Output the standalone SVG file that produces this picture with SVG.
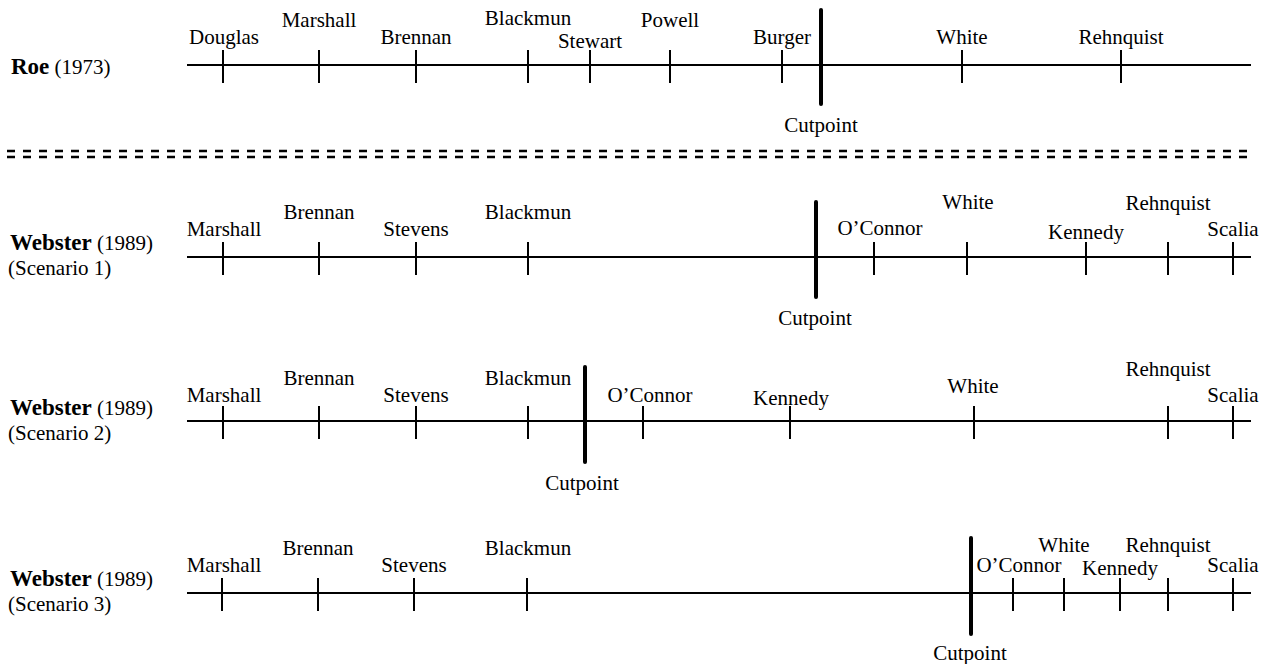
<svg xmlns="http://www.w3.org/2000/svg" width="1261" height="664" viewBox="0 0 1261 664">
<style>
text{font-family:'Liberation Serif','Times New Roman','DejaVu Serif',serif;font-size:21px;fill:#000}
.j{text-anchor:middle}
.b{font-weight:bold;font-size:23px}
.ax{stroke:#000;stroke-width:2;fill:none}
.tk{stroke:#000;stroke-width:2}
.cp{stroke:#000;stroke-width:4;stroke-linecap:round}
.dash{stroke:#000;stroke-width:2.5;stroke-dasharray:8 8;fill:none}
</style>
<rect width="1261" height="664" fill="#fff"/>

<g id="roe">
<text x="11" y="74"><tspan class="b">Roe</tspan> (1973)</text>
<line class="ax" x1="187" y1="65" x2="1251" y2="65"/>
<g class="tk">
<line x1="223" y1="50" x2="223" y2="83"/>
<line x1="319" y1="50" x2="319" y2="83"/>
<line x1="416" y1="50" x2="416" y2="83"/>
<line x1="528" y1="50" x2="528" y2="83"/>
<line x1="590" y1="50" x2="590" y2="83"/>
<line x1="670" y1="50" x2="670" y2="83"/>
<line x1="782" y1="50" x2="782" y2="83"/>
<line x1="962" y1="50" x2="962" y2="83"/>
<line x1="1121" y1="50" x2="1121" y2="83"/>
</g>
<line class="cp" x1="821" y1="10" x2="821" y2="104"/>
<text class="j" x="224" y="44">Douglas</text>
<text class="j" x="319" y="27">Marshall</text>
<text class="j" x="416" y="44">Brennan</text>
<text class="j" x="528" y="25">Blackmun</text>
<text class="j" x="590" y="48">Stewart</text>
<text class="j" x="670" y="27">Powell</text>
<text class="j" x="782" y="44">Burger</text>
<text class="j" x="962" y="44">White</text>
<text class="j" x="1121" y="44">Rehnquist</text>
<text class="j" x="821" y="132">Cutpoint</text>
</g>

<g id="separator">
<line class="dash" x1="7" y1="151" x2="1247" y2="151"/>
<line class="dash" x1="7" y1="157" x2="1247" y2="157"/>
</g>

<g id="webster1">
<text x="10" y="250"><tspan class="b">Webster</tspan> (1989)</text>
<text x="8" y="275">(Scenario 1)</text>
<line class="ax" x1="187" y1="257" x2="1251" y2="257"/>
<g class="tk">
<line x1="223" y1="242" x2="223" y2="275"/>
<line x1="319" y1="242" x2="319" y2="275"/>
<line x1="416" y1="242" x2="416" y2="275"/>
<line x1="528" y1="242" x2="528" y2="275"/>
<line x1="874" y1="242" x2="874" y2="275"/>
<line x1="967" y1="242" x2="967" y2="275"/>
<line x1="1086" y1="242" x2="1086" y2="275"/>
<line x1="1168" y1="242" x2="1168" y2="275"/>
<line x1="1233" y1="242" x2="1233" y2="275"/>
</g>
<line class="cp" x1="816" y1="202" x2="816" y2="297"/>
<text class="j" x="224" y="236">Marshall</text>
<text class="j" x="319" y="219">Brennan</text>
<text class="j" x="416" y="236">Stevens</text>
<text class="j" x="528" y="219">Blackmun</text>
<text class="j" x="880" y="235">O’Connor</text>
<text class="j" x="968" y="209">White</text>
<text class="j" x="1086" y="239">Kennedy</text>
<text class="j" x="1168" y="210">Rehnquist</text>
<text class="j" x="1233" y="236">Scalia</text>
<text class="j" x="815" y="325">Cutpoint</text>
</g>

<g id="webster2">
<text x="10" y="415"><tspan class="b">Webster</tspan> (1989)</text>
<text x="8" y="440">(Scenario 2)</text>
<line class="ax" x1="187" y1="421" x2="1251" y2="421"/>
<g class="tk">
<line x1="223" y1="406" x2="223" y2="439"/>
<line x1="319" y1="406" x2="319" y2="439"/>
<line x1="416" y1="406" x2="416" y2="439"/>
<line x1="528" y1="406" x2="528" y2="439"/>
<line x1="643" y1="406" x2="643" y2="439"/>
<line x1="790" y1="406" x2="790" y2="439"/>
<line x1="974" y1="406" x2="974" y2="439"/>
<line x1="1168" y1="406" x2="1168" y2="439"/>
<line x1="1233" y1="406" x2="1233" y2="439"/>
</g>
<line class="cp" x1="585" y1="367" x2="585" y2="462"/>
<text class="j" x="224" y="402">Marshall</text>
<text class="j" x="319" y="385">Brennan</text>
<text class="j" x="416" y="402">Stevens</text>
<text class="j" x="528" y="385">Blackmun</text>
<text class="j" x="650" y="402">O’Connor</text>
<text class="j" x="791" y="405">Kennedy</text>
<text class="j" x="973" y="393">White</text>
<text class="j" x="1168" y="376">Rehnquist</text>
<text class="j" x="1233" y="402">Scalia</text>
<text class="j" x="582" y="490">Cutpoint</text>
</g>

<g id="webster3">
<text x="10" y="586"><tspan class="b">Webster</tspan> (1989)</text>
<text x="8" y="611">(Scenario 3)</text>
<line class="ax" x1="187" y1="593" x2="1251" y2="593"/>
<g class="tk">
<line x1="222" y1="578" x2="222" y2="611"/>
<line x1="318" y1="578" x2="318" y2="611"/>
<line x1="414" y1="578" x2="414" y2="611"/>
<line x1="527" y1="578" x2="527" y2="611"/>
<line x1="1013" y1="578" x2="1013" y2="611"/>
<line x1="1064" y1="578" x2="1064" y2="611"/>
<line x1="1120" y1="578" x2="1120" y2="611"/>
<line x1="1168" y1="578" x2="1168" y2="611"/>
<line x1="1233" y1="578" x2="1233" y2="611"/>
</g>
<line class="cp" x1="971" y1="538" x2="971" y2="634"/>
<text class="j" x="224" y="572">Marshall</text>
<text class="j" x="318" y="555">Brennan</text>
<text class="j" x="414" y="572">Stevens</text>
<text class="j" x="528" y="555">Blackmun</text>
<text class="j" x="1019" y="572">O’Connor</text>
<text class="j" x="1064" y="552">White</text>
<text class="j" x="1120" y="575">Kennedy</text>
<text class="j" x="1168" y="552">Rehnquist</text>
<text class="j" x="1233" y="572">Scalia</text>
<text class="j" x="970" y="660">Cutpoint</text>
</g>
</svg>
